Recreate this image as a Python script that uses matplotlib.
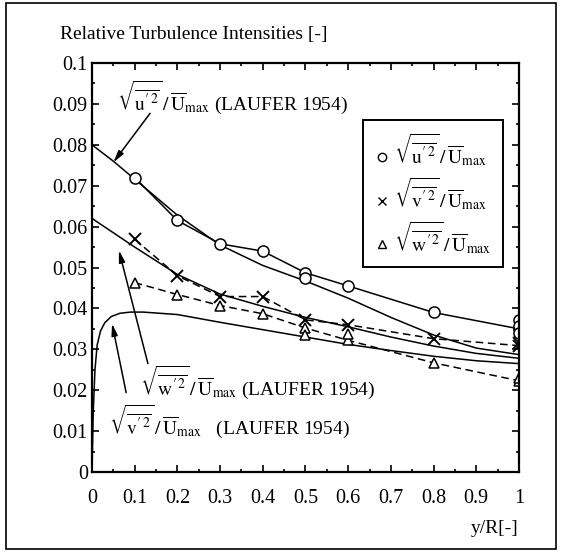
import matplotlib
matplotlib.use("Agg")
import matplotlib.pyplot as plt
from matplotlib.patches import Rectangle
from matplotlib.lines import Line2D
from matplotlib.ticker import MultipleLocator

plt.rcParams["font.family"] = ["Liberation Serif", "DejaVu Serif"]
plt.rcParams["mathtext.fontset"] = "stix"

# Measured profiles (y/R positions and relative intensities)
x_meas = [0.1, 0.2, 0.3, 0.4, 0.5, 0.6, 0.8, 1.0]
u_meas = [0.0720, 0.0615, 0.0558, 0.0540, 0.0487, 0.0455, 0.0390, 0.0350]
v_meas = [0.0569, 0.0480, 0.0429, 0.0429, 0.0372, 0.0360, 0.0326, 0.0309]
w_meas = [0.0463, 0.0434, 0.0407, 0.0387, 0.0352, 0.0322, 0.0267, 0.0223]

# Repeated measurements at some stations
u_rep_x = [0.5, 1.0, 1.0, 1.0]
u_rep_y = [0.0475, 0.0372, 0.0358, 0.0340]
v_rep_x = [1.0]
v_rep_y = [0.0316]
w_rep_x = [0.5, 0.6, 1.0]
w_rep_y = [0.0336, 0.0338, 0.0231]

# Reference profiles (Laufer 1954)
lauf_x = [0.0, 0.05, 0.1, 0.2, 0.3, 0.4, 0.5, 0.6, 0.7, 0.8, 0.9, 1.0]
u_lauf = [0.0800, 0.0760, 0.0716, 0.0628, 0.0555, 0.0505, 0.0467, 0.0425, 0.0378, 0.0335, 0.0303, 0.0287]
w_lauf = [0.0620, 0.0585, 0.0550, 0.0483, 0.0435, 0.0405, 0.0378, 0.0355, 0.0330, 0.0308, 0.0290, 0.0278]
v_lauf_x = [0.0, 0.003, 0.007, 0.012, 0.02, 0.03, 0.045, 0.065, 0.09, 0.12, 0.2, 0.3, 0.4,
            0.5, 0.6, 0.7, 0.8, 0.9, 1.0]
v_lauf = [0.0, 0.0150, 0.0250, 0.0310, 0.0345, 0.0365, 0.0380, 0.0388, 0.0391, 0.0391, 0.0385,
          0.0366, 0.0348, 0.0330, 0.0312, 0.0297, 0.0283, 0.0272, 0.0265]

x_ticks = [0, 0.1, 0.2, 0.3, 0.4, 0.5, 0.6, 0.7, 0.8, 0.9, 1.0]
x_tick_labels = ["0", "0.1", "0.2", "0.3", "0.4", "0.5", "0.6", "0.7", "0.8", "0.9", "1"]
y_ticks = [0, 0.01, 0.02, 0.03, 0.04, 0.05, 0.06, 0.07, 0.08, 0.09, 0.1]
y_tick_labels = ["0", "0.01", "0.02", "0.03", "0.04", "0.05", "0.06", "0.07", "0.08", "0.09", "0.1"]

U_LBL = r"$\sqrt{\overline{\mathrm{u}'^{2}}}\,/\,\overline{\mathrm{U}}_{\max}$"
V_LBL = r"$\sqrt{\overline{\mathrm{v}'^{2}}}\,/\,\overline{\mathrm{U}}_{\max}$"
W_LBL = r"$\sqrt{\overline{\mathrm{w}'^{2}}}\,/\,\overline{\mathrm{U}}_{\max}$"

FS = 14

fig = plt.figure(figsize=(5.63, 5.53), dpi=100)
ax = fig.add_axes([0.1634, 0.1465, 0.7584, 0.7395])

lw = 1.1
# Laufer curves
ax.plot(lauf_x, u_lauf, color="black", lw=lw)
ax.plot(lauf_x, w_lauf, color="black", lw=lw)
ax.plot(v_lauf_x, v_lauf, color="black", lw=lw)

# Measurements
ax.plot(x_meas, u_meas, color="black", lw=lw, marker="o", ms=8, mfc="white", mec="black", mew=1.1)
ax.plot(x_meas, v_meas, color="black", lw=lw, ls=(0, (5, 3)), marker="x", ms=9, mec="black", mew=1.4)
ax.plot(x_meas, w_meas, color="black", lw=lw, ls=(0, (5, 3)), marker="^", ms=7.5, mfc="white", mec="black", mew=1.1)
ax.plot(u_rep_x, u_rep_y, ls="none", marker="o", ms=8, mfc="white", mec="black", mew=1.1)
ax.plot(v_rep_x, v_rep_y, ls="none", marker="x", ms=9, mec="black", mew=1.4)
ax.plot(w_rep_x, w_rep_y, ls="none", marker="^", ms=7.5, mfc="white", mec="black", mew=1.1)

ax.set_xlim(0, 1)
ax.set_ylim(0, 0.1)
ax.set_xticks(x_ticks)
ax.set_xticklabels(x_tick_labels)
ax.set_yticks(y_ticks)
ax.set_yticklabels(y_tick_labels)
ax.xaxis.set_minor_locator(MultipleLocator(0.05))
ax.yaxis.set_minor_locator(MultipleLocator(0.005))
ax.tick_params(which="both", direction="in", top=True, right=True, width=1.2)
ax.tick_params(which="major", length=5, labelsize=14.5)
ax.tick_params(axis="x", which="major", pad=12)
ax.tick_params(axis="y", which="major", pad=3)
ax.tick_params(which="minor", length=2.5)
for s in ax.spines.values():
    s.set_linewidth(1.6)

ax.set_xlabel("y/R[-]", loc="right", fontsize=FS, labelpad=9)

# Laufer annotations
arrow = dict(arrowstyle="-|>,head_length=0.7,head_width=0.18", color="black", lw=1.1,
             shrinkA=0, shrinkB=0)
ax.annotate("", xy=(0.050, 0.0757), xytext=(0.136, 0.0877), arrowprops=arrow)
ax.annotate("", xy=(0.063, 0.0542), xytext=(0.131, 0.0265), arrowprops=arrow)
ax.annotate("", xy=(0.047, 0.0363), xytext=(0.080, 0.0194), arrowprops=arrow)

ax.text(0.058, 0.0915, U_LBL + " (LAUFER 1954)", fontsize=FS, va="center", ha="left")
ax.text(0.112, 0.0218, W_LBL + " (LAUFER 1954)", fontsize=FS, va="center", ha="left")
ax.text(0.040, 0.0125, V_LBL + "   (LAUFER 1954)", fontsize=FS, va="center", ha="left")

# Legend
handles = [
    Line2D([], [], ls="none", marker="o", ms=6, mfc="white", mec="black", mew=1.0),
    Line2D([], [], ls="none", marker="x", ms=6, mec="black", mew=1.0),
    Line2D([], [], ls="none", marker="^", ms=6, mfc="white", mec="black", mew=1.0),
]
leg = ax.legend(handles, [U_LBL, V_LBL, W_LBL], loc="upper left",
                bbox_to_anchor=(0.635, 0.861), fontsize=FS, frameon=True, fancybox=False,
                edgecolor="black", framealpha=1, borderpad=0.6, labelspacing=0.35,
                handlelength=0.7, handletextpad=0.3, borderaxespad=0)
leg.get_frame().set_linewidth(1.4)

fig.text(60 / 563, 1 - 35 / 553, "Relative Turbulence Intensities [-]", fontsize=FS,
         ha="left", va="center")

# Outer frame
fig.patches.append(Rectangle((6 / 563, 4 / 553), 550 / 563, 546 / 553, transform=fig.transFigure,
                             fill=False, edgecolor="black", lw=1.2))

fig.savefig("out.png", dpi=100)
